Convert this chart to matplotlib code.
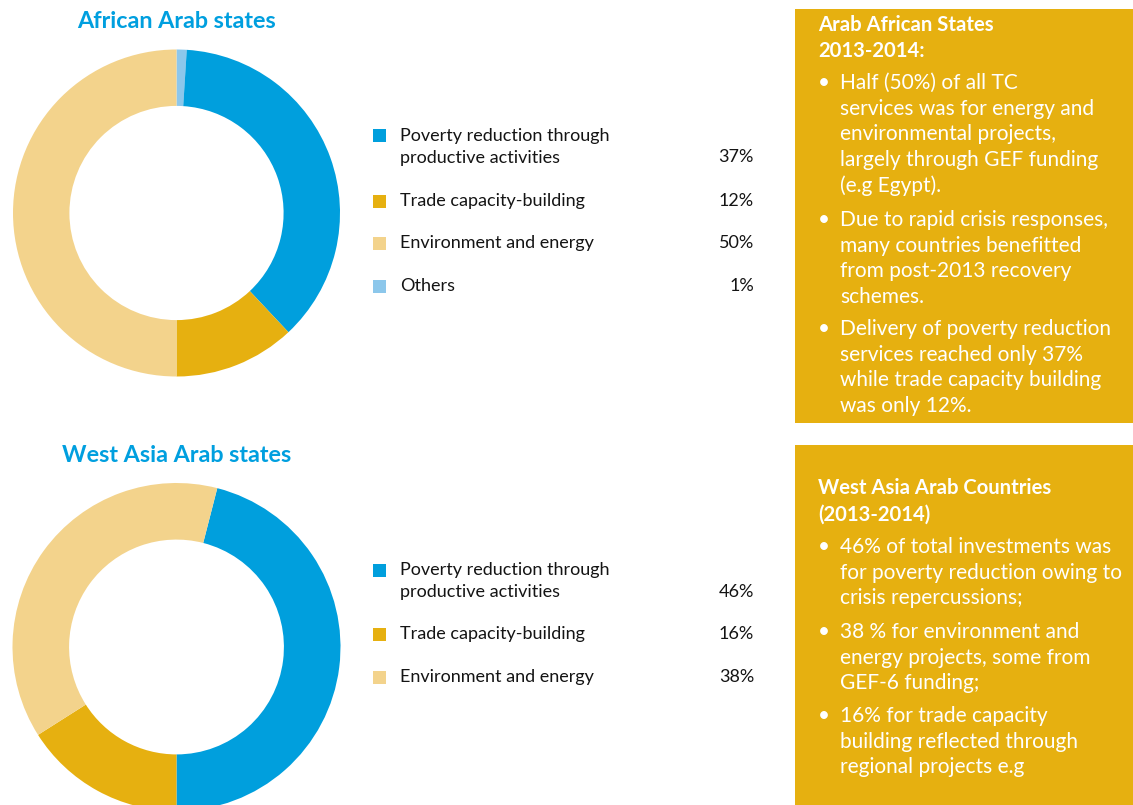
import matplotlib
matplotlib.use("Agg")
import matplotlib.pyplot as plt
from matplotlib.patches import Rectangle

plt.rcParams['font.family'] = ['Lato', 'DejaVu Sans']

# ---------------- data ----------------
title_top = "African Arab states"
labels_top = ["Others", "Poverty reduction through\nproductive activities",
              "Trade capacity-building", "Environment and energy"]
values_top = [1, 37, 12, 50]
legend_order_top = [1, 2, 3, 0]

title_bottom = "West Asia Arab states"
labels_bottom = ["Poverty reduction through\nproductive activities",
                 "Trade capacity-building", "Environment and energy"]
values_bottom = [46, 16, 38]

colors = {
    "Poverty": "#009FDD",
    "Trade": "#E6B010",
    "Environment": "#F3D38C",
    "Others": "#8CC7EB",
}

box_top_heading = ["Arab African States", "2013-2014:"]
box_top_bullets = [
    ["Half (50%) of all TC", "services was for energy and", "environmental projects,",
     "largely through GEF funding", "(e.g Egypt)."],
    ["Due to rapid crisis responses,", "many countries benefitted",
     "from post-2013 recovery", "schemes."],
    ["Delivery of poverty reduction", "services reached only 37%",
     "while trade capacity building", "was only 12%."],
]
box_bottom_heading = ["West Asia Arab Countries", "(2013-2014)"]
box_bottom_bullets = [
    ["46% of total investments was", "for poverty reduction owing to",
     "crisis repercussions;"],
    ["38 % for environment and", "energy projects, some from", "GEF-6 funding;"],
    ["16% for trade capacity", "building reflected through", "regional projects e.g"],
]

TITLE_BLUE = "#009FDF"
BOX_GOLD = "#E6B010"
TEXT = "#141414"

W, H = 1133, 805
fig = plt.figure(figsize=(W / 100, H / 100), dpi=100)
fig.patch.set_facecolor("white")

bg = fig.add_axes([0, 0, 1, 1])
bg.set_xlim(0, W)
bg.set_ylim(H, 0)
bg.axis("off")


def color_for(label):
    for k, c in colors.items():
        if label.startswith(k):
            return c
    return "#999999"


def donut(cx, cy, r, values, labels, startangle):
    ax = fig.add_axes([(cx - r) / W, (H - (cy + r)) / H, 2 * r / W, 2 * r / H])
    ax.pie(values, colors=[color_for(l) for l in labels], startangle=startangle,
           counterclock=False, radius=1.0,
           wedgeprops=dict(width=0.345, linewidth=0))
    ax.set_xlim(-1, 1)
    ax.set_ylim(-1, 1)
    ax.set_aspect("auto")
    ax.axis("off")
    return ax


# top donut: starts at 12 o'clock, clockwise
donut(176.5, 213, 163.5, values_top, labels_top, 90)
# bottom donut: poverty ends at 6 o'clock
start_bottom = -90 + 360 * values_bottom[0] / sum(values_bottom)
donut(176.5, 647, 164, values_bottom, labels_bottom, start_bottom)

# titles
bg.text(176.5, 21, title_top, color=TITLE_BLUE, fontsize=16.8, fontweight="bold",
        ha="center", va="center")
bg.text(176.5, 455, title_bottom, color=TITLE_BLUE, fontsize=16.8, fontweight="bold",
        ha="center", va="center")


def legend(items, y_rows):
    for (lab, val), y in zip(items, y_rows):
        bg.add_patch(Rectangle((373, y - 6.5), 13, 13, color=color_for(lab), lw=0))
        lines = lab.split("\n")
        for i, ln in enumerate(lines):
            bg.text(400, y + i * 21.5, ln, fontsize=13, color=TEXT, ha="left", va="center")
        bg.text(754, y + (len(lines) - 1) * 21.5, f"{val}%", fontsize=13, color=TEXT,
                ha="right", va="center")


legend([(labels_top[i], values_top[i]) for i in legend_order_top], [136, 201, 243, 286])
legend(list(zip(labels_bottom, values_bottom)), [570, 634, 677])


def textbox(y0, y1, heading, head_y, bullets, bullet_y):
    bg.add_patch(Rectangle((795, y0), W - 795, y1 - y0, color=BOX_GOLD, lw=0))
    for ln, y in zip(heading, head_y):
        bg.text(818, y, ln, color="white", fontsize=14.6, fontweight="bold",
                ha="left", va="center")
    for para, y in zip(bullets, bullet_y):
        bg.text(824, y, "\u2022", color="white", fontsize=15, ha="center", va="center")
        for i, ln in enumerate(para):
            bg.text(840, y + i * 25.7, ln, color="white", fontsize=15,
                    ha="left", va="center")


textbox(9, 423, box_top_heading, [25, 51], box_top_bullets, [83, 220, 329])
textbox(445, 805, box_bottom_heading, [488, 515], box_bottom_bullets, [547, 632, 716])

fig.savefig("out.png", dpi=100, facecolor="white")
